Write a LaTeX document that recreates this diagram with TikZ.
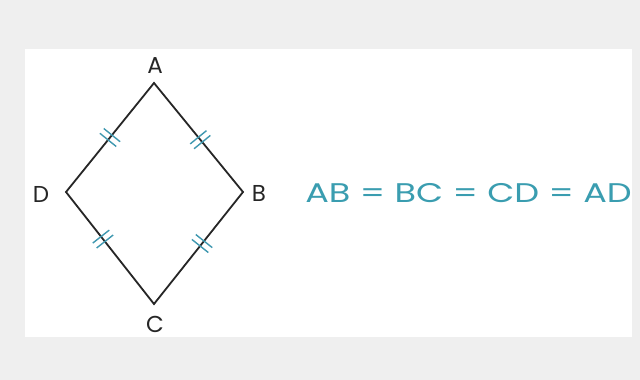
\documentclass[tikz,border=0pt]{standalone}
\usepackage{fontspec}
\setmainfont{Poppins}
\usetikzlibrary{calc}
\definecolor{bggray}{HTML}{EFEFEF}
\definecolor{teal}{HTML}{3A9DB0}
\definecolor{tickc}{HTML}{3F98B0}
\tikzset{
  vlabel/.style={font=\fontsize{23}{23}\selectfont, text=black!85, inner sep=0pt},
  side/.style={draw=black!85, line width=1.8pt, line join=miter},
  tick/.style={draw=tickc, line width=1.4pt},
}
\begin{document}
\begin{tikzpicture}[x=1pt,y=-1pt]
  \useasboundingbox (0,0) rectangle (640,380);
  \fill[bggray] (0,0) rectangle (640,380);
  \fill[white] (25,49) rectangle (632,337);
  % vertices
  \coordinate (A) at (154,83);
  \coordinate (B) at (243,192);
  \coordinate (C) at (154,304);
  \coordinate (D) at (66,192);
  \draw[side] (A) -- (B) -- (C) -- (D) -- cycle;
  % labels
  \node[vlabel] (la) at (155,66) {A};
  \node[vlabel] (lb) at (259,193) {B};
  \node[vlabel] (lc) at (155,324) {C};
  \node[vlabel] (ld) at (41,194) {D};
  % double tick marks
  \foreach \p/\q/\c in {A/D/0.5, A/B/0.52, D/C/0.42, B/C/0.46}{
    \path (\p) -- (\q)
      coordinate[pos=\c-0.022] (m1) coordinate[pos=\c+0.022] (m2);
    \draw[tick] ($(m1)!10.5pt!90:(\q)$) -- ($(m1)!10.5pt!-90:(\q)$);
    \draw[tick] ($(m2)!10.5pt!90:(\q)$) -- ($(m2)!10.5pt!-90:(\q)$);
  }
  \node[font=\fontsize{27}{27}\selectfont, text=teal, anchor=west, inner sep=0pt, xscale=1.3] (eq) at (305,193) {AB = BC = CD = AD};
\end{tikzpicture}
\end{document}
